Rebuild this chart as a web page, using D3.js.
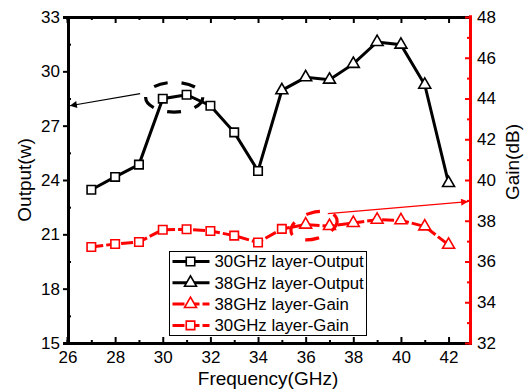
<!DOCTYPE html>
<html>
<head>
<meta charset="utf-8">
<script src="https://cdn.jsdelivr.net/npm/d3@7"></script>
<style>
  body { margin: 0; background: #fff; }
  svg { font-family: "Liberation Sans", Arial, sans-serif; }
  .tick text { font-size: 17px; fill: #000; }
</style>
</head>
<body>
<svg id="chart" width="532" height="389"></svg>
<script>
// values
const freqOut30 = [27, 28, 29, 30, 31, 32, 33, 34]
const out30 = [23.46, 24.17, 24.85, 28.49, 28.71, 28.1, 26.63, 24.5]
const freqOut38 = [35, 36, 37, 38, 39, 40, 41, 42]
const out38 = [28.95, 29.67, 29.54, 30.41, 31.62, 31.47, 29.26, 23.83]
const freqGain30 = [27, 28, 29, 30, 31, 32, 33, 34, 35]
const gain30 = [36.71, 36.86, 36.96, 37.56, 37.58, 37.5, 37.27, 36.93, 37.6]
const freqGain38 = [36, 37, 38, 39, 40, 41, 42]
const gain38 = [37.81, 37.74, 37.89, 38.05, 38.02, 37.72, 36.82]
const xTicks = [26, 28, 30, 32, 34, 36, 38, 40, 42]
const leftTicks = [15, 18, 21, 24, 27, 30, 33]
const rightTicks = [32, 34, 36, 38, 40, 42, 44, 46, 48]
const legendNames = ['30GHz layer-Output', '38GHz layer-Output', '38GHz layer-Gain', '30GHz layer-Gain']
// annotations in data units: ellipse centre/radii, arrow from -> to
const blackNote = { cx: 30.48, cy: 28.57, rx: 1.2, ry: 0.82, from: [29.05, 28.77], to: [26.1, 28.1] }
const redNote = { cx: 36.35, cy: 37.76, rx: 1.0, ry: 0.64, from: [36.93, 38.35], to: [42.82, 38.94] }

let svg = d3.select('#chart')
let padL = 68, padT = 17, padR = 470, padB = 343

let x = d3.scaleLinear().domain([26, 42.9]).range([padL - 0.5, padR])
let yL = d3.scaleLinear().domain([15, 33]).range([padB, padT])
let yR = d3.scaleLinear().domain([32, 48]).range([padB, padT])

let minorOf = (ticks, step) => ticks.slice(0, -1).map(t => t + step / 2)

// axes
svg.append('g').attr('transform', `translate(0,${padB})`)
  .call(d3.axisBottom(x).tickValues(xTicks).tickSize(-6).tickPadding(8).tickFormat(d3.format('d')))
svg.append('g').attr('transform', `translate(0,${padB})`)
  .call(d3.axisBottom(x).tickValues(minorOf(xTicks, 2)).tickSize(-3).tickFormat(''))
svg.append('g').attr('transform', `translate(0,${padT})`)
  .call(d3.axisTop(x).tickValues(xTicks).tickSize(-6).tickFormat(''))
svg.append('g').attr('transform', `translate(0,${padT})`)
  .call(d3.axisTop(x).tickValues(minorOf(xTicks, 2)).tickSize(-3).tickFormat(''))

svg.append('g').attr('transform', `translate(${padL},0)`)
  .call(d3.axisLeft(yL).tickValues(leftTicks).tickSize(5).tickPadding(3))
svg.append('g').attr('transform', `translate(${padL},0)`)
  .call(d3.axisLeft(yL).tickValues(minorOf(leftTicks, 3)).tickSize(-3).tickFormat(''))

svg.append('g').attr('class', 'red').attr('transform', `translate(${padR},0)`)
  .call(d3.axisRight(yR).tickValues(rightTicks).tickSize(-5).tickPadding(7))
svg.append('g').attr('class', 'red').attr('transform', `translate(${padR},0)`)
  .call(d3.axisRight(yR).tickValues(minorOf(rightTicks, 2)).tickSize(-3).tickFormat(''))

svg.selectAll('.domain').attr('stroke-width', 3)
svg.selectAll('.tick line').attr('stroke-width', 2)
svg.selectAll('.red .domain, .red .tick line').attr('stroke', '#ff0000')
svg.selectAll('.red .domain').attr('d', `M0.5,${padT - 1.5}V${padB + 1.5}`)

// axis titles
svg.append('text').attr('x', 268).attr('y', 385).attr('text-anchor', 'middle')
  .attr('font-size', 19).text('Frequency(GHz)')
svg.append('text').attr('transform', 'translate(31,180) rotate(-90)').attr('text-anchor', 'middle')
  .attr('font-size', 19).text('Output(w)')
svg.append('text').attr('transform', 'translate(519,162) rotate(-90)').attr('text-anchor', 'middle')
  .attr('font-size', 19).text('Gain(dB)')

// series
let lineL = d3.line().x(d => x(d[0])).y(d => yL(d[1]))
let lineR = d3.line().x(d => x(d[0])).y(d => yR(d[1]))
let zip = (a, b) => a.map((v, i) => [v, b[i]])

let o30 = zip(freqOut30, out30)
let o38 = zip(freqOut38, out38)
let g30 = zip(freqGain30, gain30)
let g38 = zip(freqGain38, gain38)

let square = d3.symbol().type(d3.symbolSquare).size(72)
let triangle = d3.symbol().type(d3.symbolTriangle).size(62)

svg.append('path').attr('d', lineR(g30.concat(g38))).attr('fill', 'none')
  .attr('stroke', '#ff0000').attr('stroke-width', 3).attr('stroke-dasharray', '12,3')
svg.append('path').attr('d', lineL(o30.concat(o38))).attr('fill', 'none')
  .attr('stroke', '#000').attr('stroke-width', 3)

let marks = (data, y, sym, color) => svg.append('g').selectAll('path')
  .data(data).enter().append('path')
  .attr('d', sym)
  .attr('transform', d => `translate(${x(d[0])},${y(d[1])})`)
  .attr('fill', '#fff').attr('stroke', color).attr('stroke-width', 1.6)

marks(g30, yR, square, '#ff0000')
marks(g38, yR, triangle, '#ff0000')
marks(o30, yL, square, '#000')
marks(o38, yL, triangle, '#000')

// annotations
let defs = svg.append('defs')
let arrowHead = (id, color) => defs.append('marker').attr('id', id)
  .attr('viewBox', '0 0 10 10').attr('refX', 10).attr('refY', 5)
  .attr('markerWidth', 9).attr('markerHeight', 7).attr('markerUnits', 'userSpaceOnUse')
  .attr('orient', 'auto')
  .append('path').attr('d', 'M0,0L10,5L0,10z').attr('fill', color)
arrowHead('ahBlack', '#000')
arrowHead('ahRed', '#ff0000')

let note = (n, y, color, id, angle) => {
  let cx = x(n.cx), cy = y(n.cy)
  svg.append('ellipse')
    .attr('transform', `translate(${cx},${cy}) rotate(${angle})`)
    .attr('rx', x(n.cx + n.rx) - cx).attr('ry', y(n.cy - n.ry) - cy)
    .attr('fill', 'none').attr('stroke', color).attr('stroke-width', 3.2)
    .attr('stroke-dasharray', '14,14')
  svg.append('line')
    .attr('x1', x(n.from[0])).attr('y1', y(n.from[1]))
    .attr('x2', x(n.to[0])).attr('y2', y(n.to[1]))
    .attr('stroke', color).attr('stroke-width', 1.2)
    .attr('marker-end', `url(#${id})`)
}
note(blackNote, yL, '#000', 'ahBlack', 0)
note(redNote, yR, '#ff0000', 'ahRed', -17)

// legend
let legend = svg.append('g').attr('transform', 'translate(169.5,251.5)')
legend.append('rect').attr('width', 197).attr('height', 84)
  .attr('fill', '#fff').attr('stroke', '#000').attr('stroke-width', 1)
let legendStyle = [
  { color: '#000', sym: square, dash: null },
  { color: '#000', sym: triangle, dash: null },
  { color: '#ff0000', sym: triangle, dash: '12,3' },
  { color: '#ff0000', sym: square, dash: '12,3' }
]
let rows = legend.selectAll('g.row').data(legendNames).enter().append('g')
  .attr('class', 'row').attr('transform', (d, i) => `translate(0,${10 + i * 21.3})`)
rows.append('line').attr('x1', 3).attr('x2', 40)
  .attr('stroke', (d, i) => legendStyle[i].color).attr('stroke-width', 3)
  .attr('stroke-dasharray', (d, i) => legendStyle[i].dash)
rows.append('path').attr('d', (d, i) => legendStyle[i].sym())
  .attr('transform', 'translate(21,0)')
  .attr('fill', '#fff').attr('stroke', (d, i) => legendStyle[i].color).attr('stroke-width', 1.6)
rows.append('text').attr('x', 45).attr('dy', '0.35em').attr('font-size', 16.8).text(d => d)
</script>
</body>
</html>
